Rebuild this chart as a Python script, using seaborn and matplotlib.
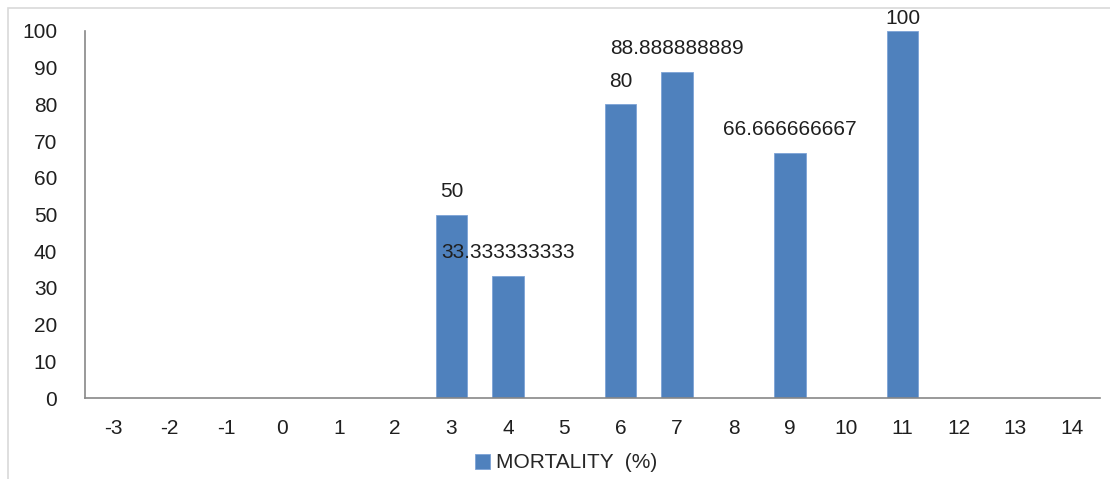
import numpy as np
import pandas as pd
import seaborn as sns
import matplotlib.pyplot as plt
from matplotlib.patches import Rectangle

# chart data
categories = [str(c) for c in range(-3, 15)]
mortality = [np.nan, np.nan, np.nan, np.nan, np.nan, np.nan,
             50, 33.333333333, np.nan, 80, 88.888888889, np.nan,
             66.666666667, np.nan, 100, np.nan, np.nan, np.nan]
series_name = "MORTALITY  (%)"

df = pd.DataFrame({"day": categories, "mortality": mortality})

sns.set_style("white")
plt.rcParams['font.family'] = ['Liberation Sans', 'DejaVu Sans']

fig = plt.figure(figsize=(11.1, 4.79), dpi=100)
ax = fig.add_axes([85 / 1110, 1 - 398 / 479, (1100 - 85) / 1110, (398 - 31) / 479])

sns.barplot(data=df, x="day", y="mortality", order=categories, color="#4F81BD",
            saturation=1, width=0.56, edgecolor="#7da3d6", linewidth=0.6,
            label=series_name, ax=ax)
if ax.get_legend() is not None:
    ax.get_legend().remove()

# data labels
for i, v in enumerate(mortality):
    if np.isnan(v):
        continue
    off = 2 if v >= 100 else 10
    ax.annotate(f"{v:.11g}", (i, v), xytext=(0, off), textcoords="offset points",
                ha="center", va="bottom", fontsize=15, color="#1f1f1f",
                annotation_clip=False)

ax.set_ylim(0, 100)
ax.set_xlim(-0.5, len(categories) - 0.5)
ax.set_yticks(range(0, 101, 10))
ax.set_xlabel("")
ax.set_ylabel("")
ax.tick_params(axis="both", length=0, labelsize=15, colors="#1f1f1f")
ax.tick_params(axis="y", pad=20)
ax.tick_params(axis="x", pad=15)
for s in ["top", "right"]:
    ax.spines[s].set_visible(False)
for s in ["left", "bottom"]:
    ax.spines[s].set_color("#888888")
    ax.spines[s].set_linewidth(1.2)

h, l = ax.get_legend_handles_labels()
fig.legend(h, l, loc="center", bbox_to_anchor=(566 / 1110, 1 - 463 / 479),
           frameon=False, fontsize=15, handlelength=0.7, handleheight=0.7,
           handletextpad=0.3)

# outer chart frame
fig.patches.append(Rectangle((8 / 1110, -0.1), 1.2, 1 - 8 / 479 + 0.1,
                             transform=fig.transFigure, fill=False,
                             edgecolor="#d9d9d9", linewidth=1.2))

fig.savefig("out.png", dpi=100)
